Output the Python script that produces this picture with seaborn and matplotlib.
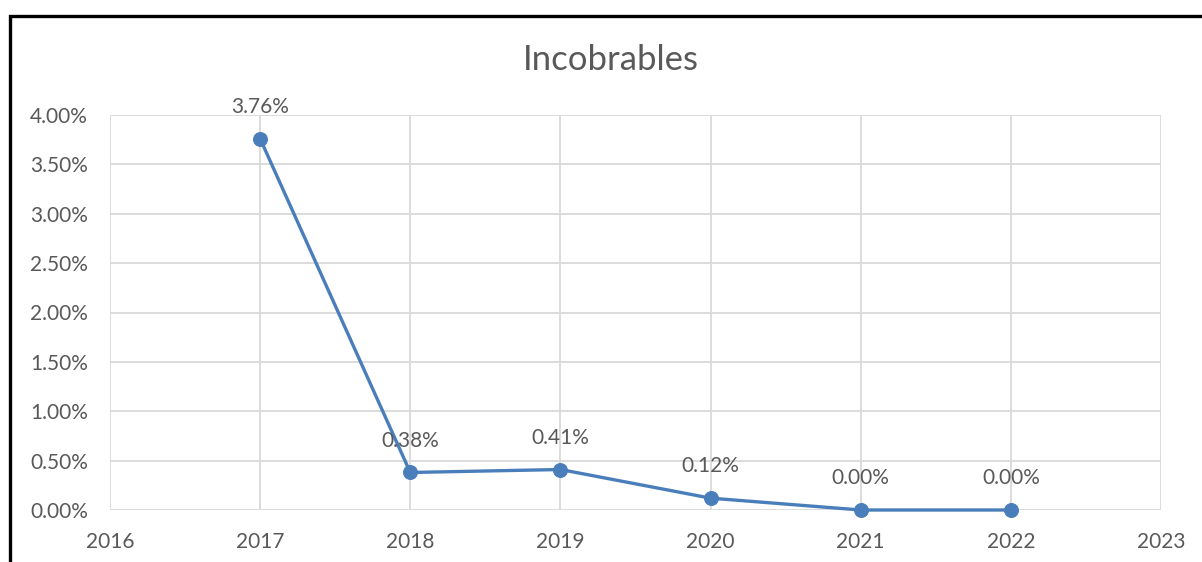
import matplotlib
matplotlib.use("Agg")
import matplotlib.pyplot as plt
import seaborn as sns
import pandas as pd
from matplotlib.ticker import FuncFormatter, MultipleLocator
from matplotlib.patches import Rectangle

years = [2017, 2018, 2019, 2020, 2021, 2022]
values = [3.76, 0.38, 0.41, 0.12, 0.00, 0.00]
labels = ["3.76%", "0.38%", "0.41%", "0.12%", "0.00%", "0.00%"]
title = "Incobrables"

sns.set_theme(style="white")
plt.rcParams['font.family'] = ['Lato', 'DejaVu Sans']

df = pd.DataFrame({"year": years, "value": values})
txt = "#595959"
blue = "#4A7EBB"

fig = plt.figure(figsize=(12.02, 5.62), dpi=100)
ax = fig.add_axes([110/1202, 1-510/562, (1161-110)/1202, (510-115)/562])

sns.lineplot(data=df, x="year", y="value", ax=ax, color=blue, linewidth=2.4,
             marker="o", markersize=10, markeredgecolor=blue, markerfacecolor=blue,
             zorder=3, clip_on=False)

for x, y, lab in zip(years, values, labels):
    ax.annotate(lab, (x, y), xytext=(0, 23), textcoords="offset points",
                ha="center", va="center", fontsize=15, color=txt, zorder=4)

ax.set_xlim(2016, 2023)
ax.set_ylim(0, 4.0)
ax.xaxis.set_major_locator(MultipleLocator(1))
ax.yaxis.set_major_locator(MultipleLocator(0.5))
ax.yaxis.set_major_formatter(FuncFormatter(lambda v, p: f"{v:.2f}%"))
ax.xaxis.set_major_formatter(FuncFormatter(lambda v, p: f"{int(round(v))}"))
ax.grid(True, color="#D9D9D9", linewidth=1.3)
ax.set_axisbelow(True)
for s in ax.spines.values():
    s.set_visible(False)
ax.tick_params(axis="both", length=0, labelsize=15, labelcolor=txt)
ax.tick_params(axis="x", pad=16)
ax.tick_params(axis="y", pad=16)
ax.set_xlabel("")
ax.set_ylabel("")
if ax.get_legend():
    ax.get_legend().remove()

fig.text(611/1202, 1-60/562, title, ha="center", va="center", fontsize=25, color=txt)

fig.patches.append(Rectangle((9.5/1202, -0.1), 1.2, 1-15.5/562 + 0.1,
                             transform=fig.transFigure, fill=False,
                             edgecolor="black", linewidth=2.4, zorder=10))

fig.savefig("out.png", dpi=100, facecolor="white")
